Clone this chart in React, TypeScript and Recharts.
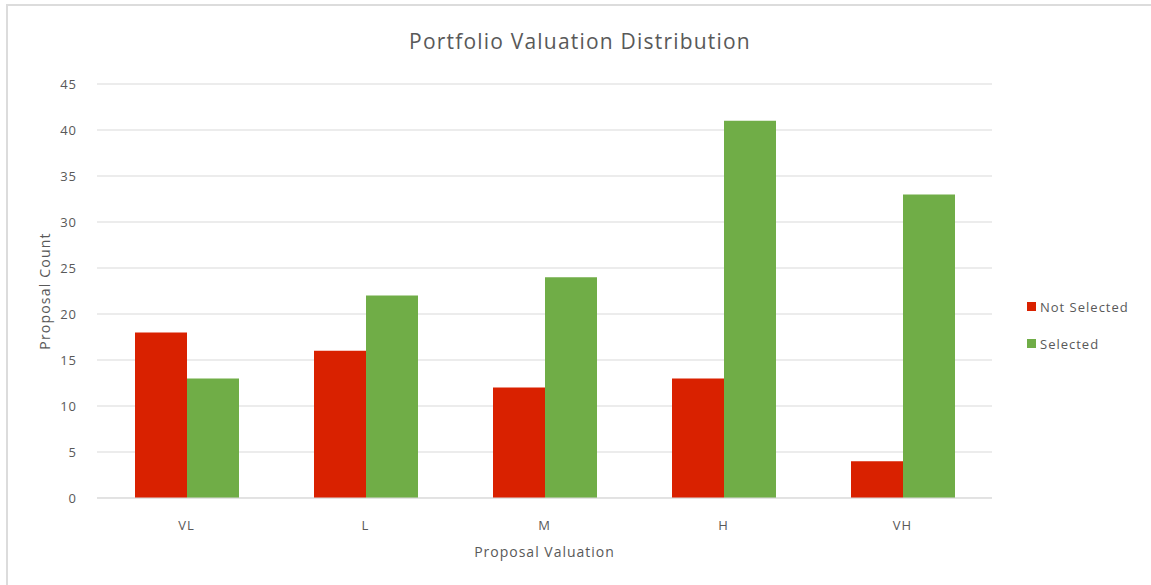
import { BarChart, Bar, XAxis, YAxis, CartesianGrid, Label } from "recharts"

const categories = ["VL", "L", "M", "H", "VH"]
const notSelected = [18, 16, 12, 13, 4]
const selected = [13, 22, 24, 41, 33]
const yTicks = [0, 5, 10, 15, 20, 25, 30, 35, 40, 45]

const RED = "#d92100"
const GREEN = "#70ad47"
const TEXT = "#595959"
const FONT = "'Open Sans', sans-serif"

const rows = categories.map((c, i) => ({ cat: c, notSelected: notSelected[i], selected: selected[i] }))

const legendItems = [
  { name: "Not Selected", color: RED },
  { name: "Selected", color: GREEN },
]

export default function App() {
  return (
    <div style={{ position: "absolute", left: 0, top: 0, width: 1151, height: 585, overflow: "hidden", background: "#fff" }}>
      <div style={{
        position: "absolute", left: 6, top: 4, width: 1300, height: 700,
        border: "2px solid #dcdcdc", boxSizing: "border-box",
      }} />
      <div style={{
        position: "absolute", left: 0, top: 27, width: 1160, textAlign: "center",
        fontFamily: FONT, fontSize: 21, color: TEXT, letterSpacing: 1.2,
      }}>
        Portfolio Valuation Distribution
      </div>
      <div style={{ position: "absolute", left: 0, top: 0 }}>
        <BarChart
          width={1151}
          height={585}
          data={rows}
          margin={{ top: 84, right: 159, bottom: 0, left: 37 }}
          barCategoryGap={38}
          barGap={0}
        >
          <CartesianGrid horizontal vertical={false} stroke="#d9d9d9" />
          <XAxis
            dataKey="cat"
            height={87}
            axisLine={{ stroke: "#d9d9d9" }}
            tickLine={false}
            tick={{ fontSize: 13, fill: TEXT, fontFamily: FONT, letterSpacing: 1 }}
            tickMargin={17}
          >
            <Label value="Proposal Valuation" position="insideBottom" offset={28} style={{ fontSize: 14, fill: TEXT, fontFamily: FONT, letterSpacing: 1 }} />
          </XAxis>
          <YAxis
            width={60}
            domain={[0, 45]}
            ticks={yTicks}
            axisLine={false}
            tickLine={false}
            tick={{ fontSize: 13, fill: TEXT, fontFamily: FONT, letterSpacing: 1 }}
            tickMargin={14}
          >
            <Label value="Proposal Count" angle={-90} position="insideLeft" offset={8} style={{ fontSize: 14, fill: TEXT, fontFamily: FONT, textAnchor: "middle", letterSpacing: 1.2 }} />
          </YAxis>
          <Bar dataKey="notSelected" name="Not Selected" fill={RED} isAnimationActive={false} />
          <Bar dataKey="selected" name="Selected" fill={GREEN} isAnimationActive={false} />
        </BarChart>
      </div>
      <div style={{ position: "absolute", left: 1027, top: 288, fontFamily: FONT, fontSize: 13, color: TEXT, letterSpacing: 1 }}>
        {legendItems.map((it) => (
          <div key={it.name} style={{ display: "flex", alignItems: "center", height: 37 }}>
            <span style={{ width: 9, height: 9, background: it.color, marginRight: 4, display: "inline-block" }} />
            {it.name}
          </div>
        ))}
      </div>
    </div>
  )
}
